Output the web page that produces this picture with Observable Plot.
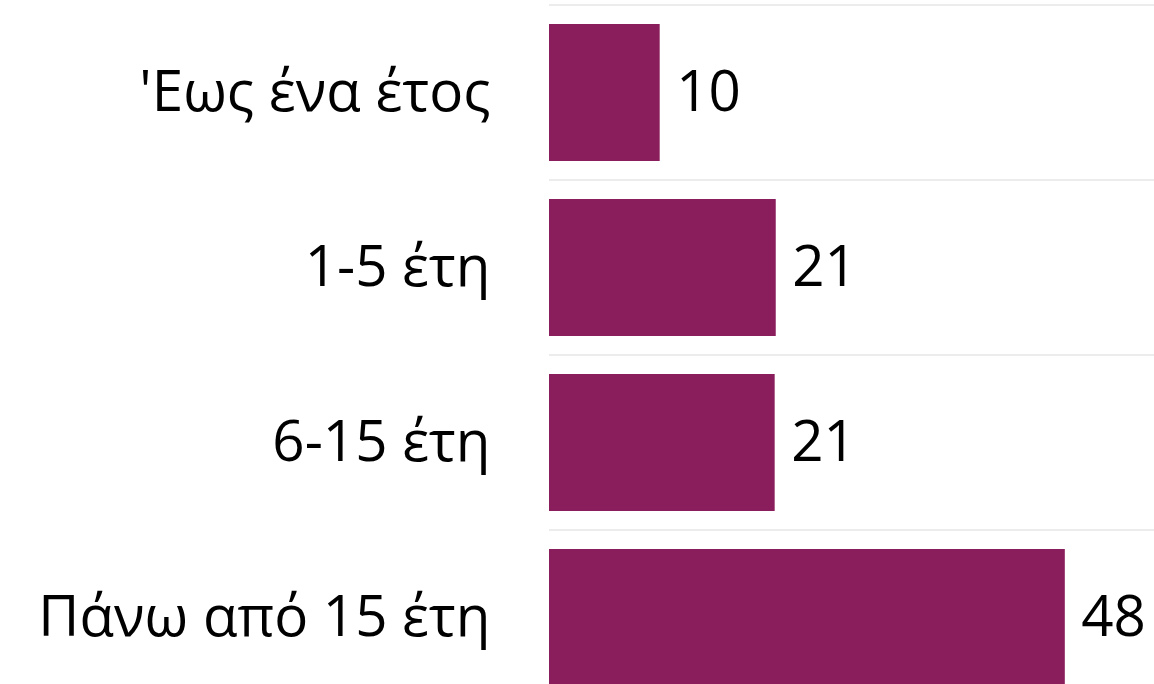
<!DOCTYPE html>
<html>
<head>
<meta charset="utf-8">
<script src="https://cdn.jsdelivr.net/npm/d3@7"></script>
<script src="https://cdn.jsdelivr.net/npm/@observablehq/plot@0.6"></script>
<style>
  html, body { margin: 0; padding: 0; background: #fff; overflow: hidden; }
  #chart svg { display: block; }
</style>
</head>
<body>
<div id="chart"></div>
<script>
const categories = ["'Εως ένα έτος", "1-5 έτη", "6-15 έτη", "Πάνω από 15 έτη"];
const values = [10.3, 21.1, 21.0, 48.0];
const labels = ["10", "21", "21", "48"];

const data = categories.map((c, i) => ({category: c, value: values[i], label: labels[i]}));

const font = "'Open Sans', sans-serif";

const chart = Plot.plot({
  width: 1154,
  height: 684,
  marginLeft: 549,
  marginRight: 0,
  marginTop: 0,
  marginBottom: 0,
  style: {fontFamily: font, background: "#fff", overflow: "visible"},
  x: {domain: [0, 56.3], axis: null},
  y: {domain: categories, range: [4, 706], paddingInner: 0.22, paddingOuter: 0.11, label: null},
  marks: [
    Plot.ruleY(categories, {y: d => d, dy: -88, stroke: "#e6e6e6", strokeWidth: 1.5}),
    Plot.ruleX([0], {y1: categories[0], y2: categories[categories.length - 1], insetTop: -88, insetBottom: -88, stroke: "#e6e6e6", strokeWidth: 1.5}),
    Plot.barX(data, {y: "category", x: "value", fill: "#8a1e5c"}),
    Plot.text(data, {y: "category", x: "value", text: "label", textAnchor: "start", dx: 16, fontSize: 56.5, fill: "#000"}),
    Plot.axisY({tickSize: 0, tickPadding: 59, fontSize: 56.5, fill: "#000", label: null})
  ]
});

document.getElementById("chart").appendChild(chart);
</script>
</body>
</html>
